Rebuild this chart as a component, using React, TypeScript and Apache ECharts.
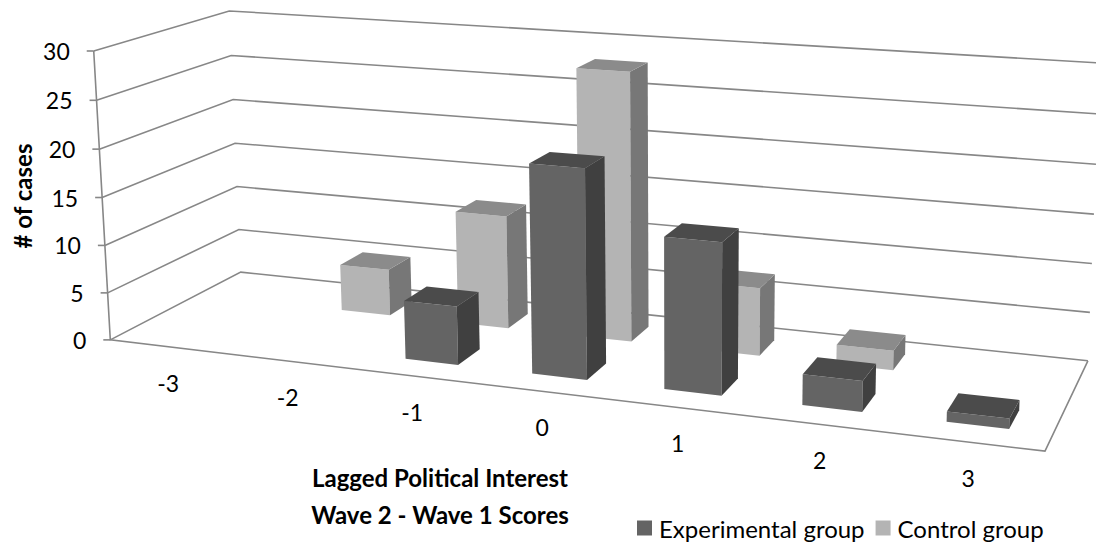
import React, { useEffect, useRef } from 'react';
import * as echarts from 'echarts';

// ---------- data ----------
const categories = ['-3', '-2', '-1', '0', '1', '2', '3'];
const experimental = [0, 0, 6, 21, 15, 3, 1];
const control = [0, 5, 12, 28, 7, 2, 0];
const valueTicks = [0, 5, 10, 15, 20, 25, 30];
const seriesNames = ['Experimental group', 'Control group'];
const yTitle = '# of cases';
const xTitle = 'Lagged Political Interest\nWave 2 - Wave 1 Scores';

// ---------- 3D frame (corners of the plot box on screen) ----------
// [X (category axis 0..1), Y (value 0..1), Z (depth 0 front..1 back), screenX, screenY]
const frameAnchors: number[][] = [
  [0, 0, 0, 111, 340],
  [1, 0, 0, 1045, 451],
  [1, 0, 1, 1088, 361],
  [0, 0, 1, 240, 272],
  [0, 1, 0, 93, 51],
  [0, 1, 1, 230, 11],
  [1, 1, 1, 1100, 63],
];

function fitProjection(pts: number[][]): number[] {
  const rows: number[][] = [];
  const rhs: number[] = [];
  for (const [X, Y, Z, x, y] of pts) {
    rows.push([X, Y, Z, 1, 0, 0, 0, 0, -x * X, -x * Y, -x * Z]);
    rhs.push(x);
    rows.push([0, 0, 0, 0, X, Y, Z, 1, -y * X, -y * Y, -y * Z]);
    rhs.push(y);
  }
  const n = 11;
  const M: number[][] = Array.from({ length: n }, () => new Array(n + 1).fill(0));
  for (let r = 0; r < rows.length; r++) {
    for (let i = 0; i < n; i++) {
      for (let j = 0; j < n; j++) M[i][j] += rows[r][i] * rows[r][j];
      M[i][n] += rows[r][i] * rhs[r];
    }
  }
  for (let c = 0; c < n; c++) {
    let piv = c;
    for (let r = c + 1; r < n; r++) if (Math.abs(M[r][c]) > Math.abs(M[piv][c])) piv = r;
    const tmp = M[c]; M[c] = M[piv]; M[piv] = tmp;
    for (let r = 0; r < n; r++) {
      if (r === c) continue;
      const f = M[r][c] / M[c][c];
      for (let k = c; k <= n; k++) M[r][k] -= f * M[c][k];
    }
  }
  return M.map((row, i) => row[n] / row[i]);
}

const PROJ = fitProjection(frameAnchors);
function P(X: number, Y: number, Z: number): number[] {
  const p = PROJ;
  const w = p[8] * X + p[9] * Y + p[10] * Z + 1;
  return [(p[0] * X + p[1] * Y + p[2] * Z + p[3]) / w, (p[4] * X + p[5] * Y + p[6] * Z + p[7]) / w];
}

const FONT = 'Lato, "Open Sans", sans-serif';
const GRID_COLOR = '#878787';
const BAR_WIDTH_FRAC = 0.42; // of a category band
const BAR_DEPTH = 0.2; // of floor depth
const ROW_CENTER = [0.27, 0.75]; // experimental front, control back

const faceColors = [
  { front: '#646464', side: '#404040', top: '#4b4b4b' },
  { front: '#b4b4b4', side: '#777777', top: '#8b8b8b' },
];

function norm(params: any, pt: number[]) {
  const cs = params.coordSys;
  return [(pt[0] - cs.x) / cs.width, (cs.y + cs.height - pt[1]) / cs.height];
}

function barRenderer(row: number) {
  return (params: any, api: any) => {
    const idx = api.value(0);
    const val = api.value(1);
    if (!val) return { type: 'group', children: [] };
    const [u, v] = norm(params, api.coord([idx, val]));
    const hw = (api.size([1, 0])[0] / params.coordSys.width) * BAR_WIDTH_FRAC / 2;
    const u0 = u - hw, u1 = u + hw;
    const w0 = ROW_CENTER[row] - BAR_DEPTH / 2, w1 = ROW_CENTER[row] + BAR_DEPTH / 2;
    const c = faceColors[row];
    return {
      type: 'group',
      children: [
        { type: 'polygon', shape: { points: [P(u0, 0, w0), P(u1, 0, w0), P(u1, v, w0), P(u0, v, w0)] }, style: { fill: c.front } },
        { type: 'polygon', shape: { points: [P(u1, 0, w0), P(u1, 0, w1), P(u1, v, w1), P(u1, v, w0)] }, style: { fill: c.side } },
        { type: 'polygon', shape: { points: [P(u0, v, w0), P(u1, v, w0), P(u1, v, w1), P(u0, v, w1)] }, style: { fill: c.top } },
      ],
    };
  };
}

function gridRenderer(params: any, api: any) {
  const t = api.value(1);
  const [, v] = norm(params, api.coord([0, t]));
  const lineStyle = { stroke: GRID_COLOR, lineWidth: 1.6, fill: null };
  const a = P(0, v, 0);
  const children: any[] = [
    { type: 'polyline', shape: { points: [a, P(0, v, 1), P(1, v, 1)] }, style: lineStyle },
    { type: 'line', shape: { x1: a[0] - 7, y1: a[1], x2: a[0], y2: a[1] }, style: lineStyle },
    {
      type: 'text',
      x: a[0] - 24,
      y: a[1],
      style: { text: String(t), align: 'right', verticalAlign: 'middle', fontFamily: FONT, fontSize: 23, fill: '#000' },
    },
  ];
  if (t === 0) {
    const [, vTop] = norm(params, api.coord([0, valueTicks[valueTicks.length - 1]]));
    children.push({ type: 'polyline', shape: { points: [P(1, 0, 1), P(1, 0, 0), P(0, 0, 0), P(0, vTop, 0)] }, style: lineStyle });
  }
  return { type: 'group', children };
}

function categoryLabelRenderer(params: any, api: any) {
  const idx = api.value(0);
  const [u] = norm(params, api.coord([idx, 0]));
  const p = P(u, 0, 0);
  return {
    type: 'text',
    x: p[0],
    y: p[1] + 36,
    style: { text: categories[idx], align: 'center', verticalAlign: 'middle', fontFamily: FONT, fontSize: 23, fill: '#000' },
  };
}

export default function App() {
  const ref = useRef<HTMLDivElement>(null);
  useEffect(() => {
    if (!ref.current) return;
    const chart = echarts.init(ref.current, undefined, { renderer: 'svg' });
    chart.setOption({
      animation: false,
      backgroundColor: '#ffffff',
      grid: { left: 100, top: 50, width: 800, height: 300, show: false },
      xAxis: { type: 'category', data: categories, show: false },
      yAxis: { type: 'value', min: 0, max: 30, interval: 5, show: false },
      legend: {
        data: seriesNames,
        left: 637,
        top: 516,
        padding: 0,
        icon: 'rect',
        itemWidth: 15,
        itemHeight: 15,
        itemGap: 11,
        textStyle: { fontFamily: FONT, fontSize: 24, color: '#000', padding: [0, 0, 0, 2] },
      },
      graphic: [
        {
          type: 'text',
          x: 22,
          y: 196,
          rotation: Math.PI / 2,
          style: { text: yTitle, align: 'center', verticalAlign: 'middle', fontFamily: FONT, fontSize: 24, fontWeight: 'bold', fill: '#000' },
        },
        {
          type: 'text',
          x: 440,
          y: 496,
          style: { text: xTitle, align: 'center', verticalAlign: 'middle', fontFamily: FONT, fontSize: 24, fontWeight: 'bold', fill: '#000', lineHeight: 37 },
        },
      ],
      series: [
        {
          type: 'custom',
          name: 'grid',
          z: 1,
          silent: true,
          renderItem: gridRenderer,
          data: valueTicks.map((t) => [0, t]),
          encode: { x: 0, y: 1 },
        },
        {
          type: 'custom',
          name: seriesNames[1],
          z: 2,
          itemStyle: { color: faceColors[1].front },
          renderItem: barRenderer(1),
          data: control.map((v, i) => [i, v]),
          encode: { x: 0, y: 1 },
        },
        {
          type: 'custom',
          name: seriesNames[0],
          z: 3,
          itemStyle: { color: faceColors[0].front },
          renderItem: barRenderer(0),
          data: experimental.map((v, i) => [i, v]),
          encode: { x: 0, y: 1 },
        },
        {
          type: 'custom',
          name: 'labels',
          z: 4,
          silent: true,
          renderItem: categoryLabelRenderer,
          data: categories.map((_, i) => [i, 0]),
          encode: { x: 0, y: 1 },
        },
      ],
    });
    return () => chart.dispose();
  }, []);
  return <div ref={ref} style={{ position: 'fixed', left: 0, top: 0, width: 1096, height: 543 }} />;
}
